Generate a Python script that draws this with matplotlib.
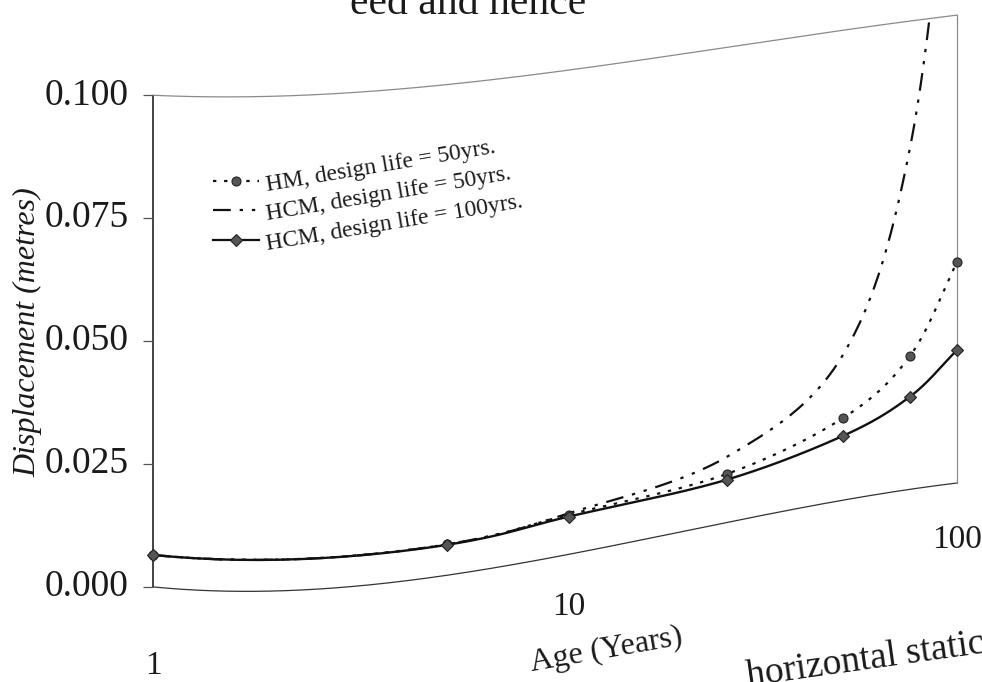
import numpy as np
import matplotlib
matplotlib.use("Agg")
import matplotlib.pyplot as plt
from matplotlib.transforms import Transform, offset_copy
from matplotlib.path import Path
from matplotlib.patches import PathPatch
from matplotlib.lines import Line2D
from matplotlib.markers import TICKLEFT

# ---- data -------------------------------------------------------------
years = [1, 5, 10, 25, 50, 75, 100]
hm_50 = [0.0065, 0.0063, 0.0082, 0.0102, 0.0175, 0.0285, 0.0472]
hcm_50 = [0.0065, 0.0063, 0.0085, 0.0138, 0.0310, 0.0730, 0.1500]
hcm_100 = [0.0065, 0.0062, 0.0078, 0.0090, 0.0137, 0.0198, 0.0284]
series_labels = ["HM, design life = 50yrs.",
                 "HCM, design life = 50yrs.",
                 "HCM, design life = 100yrs."]
y_ticks = [0.000, 0.025, 0.050, 0.075, 0.100]
y_tick_labels = ["0.000", "0.025", "0.050", "0.075", "0.100"]
x_ticks = [1, 10, 100]
x_tick_labels = ["1", "10", "100"]

plt.rcParams['font.family'] = ['Liberation Serif', 'DejaVu Serif']

W, H = 982, 682

# ---- curled-page geometry (pixels, origin top-left) ----------------------
EDGE_L, EDGE_R = 153.0, 957.0
bottom_fit = np.polyfit([153, 230, 380, 580, 700, 957],
                        [587, 591, 584, 552, 528, 483], 3)
top_fit = np.polyfit([153, 267, 483, 650, 700, 800, 957],
                     [95, 97, 80, 60, 50, 37, 15], 3)
label_fit = np.polyfit([153, 550, 957], [666, 610, 540], 2)
LABEL_V = -0.15


class PageCurl(Transform):
    """Maps axes-fraction (u, v) onto the curled page, in figure fraction."""
    input_dims = output_dims = 2
    is_separable = False
    has_inverse = False

    def transform_non_affine(self, values):
        values = np.asarray(values, dtype=float).reshape(-1, 2)
        u, v = values[:, 0], values[:, 1]
        gx = u + 0.07 * u * (1 - u)
        px = EDGE_L + (EDGE_R - EDGE_L) * gx
        bottom = np.polyval(bottom_fit, px)
        top = np.polyval(top_fit, px)
        label = np.polyval(label_fit, px)
        py = np.where(v >= 0, bottom + (top - bottom) * v,
                      bottom + (label - bottom) * (v / LABEL_V))
        return np.column_stack([px / W, 1 - py / H])

    def transform_path_non_affine(self, path):
        return Path(self.transform_non_affine(path.vertices), path.codes)


def smooth(xs, ys, n=30):
    """Catmull-Rom curve through the points in (log x, y)."""
    P = np.column_stack([np.log10(xs), np.asarray(ys, float)])
    P = np.vstack([2 * P[0] - P[1], P, 2 * P[-1] - P[-2]])
    t = np.linspace(0, 1, n, endpoint=False)[:, None]
    out = []
    for i in range(1, len(P) - 2):
        p0, p1, p2, p3 = P[i - 1], P[i], P[i + 1], P[i + 2]
        out.append(0.5 * (2 * p1 + (-p0 + p2) * t
                          + (2 * p0 - 5 * p1 + 4 * p2 - p3) * t ** 2
                          + (-p0 + 3 * p1 - 3 * p2 + p3) * t ** 3))
    out.append(P[-2][None, :])
    pts = np.vstack(out)
    return 10 ** pts[:, 0], pts[:, 1]


fig = plt.figure(figsize=(W / 100, H / 100), dpi=100)
ax = fig.add_axes([0, 0, 1, 1])
ax.set_xscale('log')
ax.set_xlim(1, 100)
ax.set_ylim(0, 0.1)
ax.set_axis_off()

curl = PageCurl() + fig.transFigure
to_page = ax.transScale + ax.transLimits + curl

# ---- plot frame ----------------------------------------------------------
s = np.linspace(0, 1, 300)
z, o = np.zeros_like(s), np.ones_like(s)
ax.plot(z, s, transform=curl, color='#111111', lw=1.1, solid_capstyle='butt')
ax.plot(s, z, transform=curl, color='#333333', lw=0.9)
ax.plot(s, o, transform=curl, color='#8a8a8a', lw=0.9)
ax.plot(o, s, transform=curl, color='#8a8a8a', lw=0.9)

frame_verts = np.concatenate([np.column_stack([s, z]), np.column_stack([o, s]),
                              np.column_stack([s[::-1], o]),
                              np.column_stack([z, s[::-1]])])
frame_patch = PathPatch(Path(frame_verts), transform=curl,
                        facecolor='none', edgecolor='none')

# y ticks and labels
ax.plot([1] * len(y_ticks), y_ticks, ls='none', marker=TICKLEFT, ms=7,
        mew=0.9, color='#555555', transform=to_page)
for yt, lab in zip(y_ticks, y_tick_labels):
    ax.text(1, yt, lab, transform=offset_copy(to_page, fig=fig, x=-24, y=0,
                                              units='dots'),
            ha='right', va='center', fontsize=27, color='#1a1a1a')

# x tick labels
for xt, lab in zip(x_ticks, x_tick_labels):
    ax.text(xt, LABEL_V * 0.1, lab, transform=to_page,
            ha='center', va='center', fontsize=24, color='#1a1a1a')

# ---- series ----------------------------------------------------------------
line_col = '#111111'
mk_face, mk_edge = '#555555', '#222222'
hcm50_style = (0, (8, 4, 1.5, 4, 1.5, 4))
hm_style = (0, (1.5, 3.5))

sx, sy = smooth(years, hcm_50)
l50, = ax.plot(sx, sy, transform=to_page, color=line_col, lw=1.6,
               ls=hcm50_style)
l50.set_clip_path(frame_patch)

sx, sy = smooth(years, hm_50)
ax.plot(sx, sy, transform=to_page, color=line_col, lw=1.6, ls=hm_style)
ax.plot(years, hm_50, transform=to_page, ls='none', marker='o', ms=6.5,
        mfc=mk_face, mec=mk_edge, mew=0.8)

sx, sy = smooth(years, hcm_100)
ax.plot(sx, sy, transform=to_page, color=line_col, lw=1.7)
ax.plot(years, hcm_100, transform=to_page, ls='none', marker='D', ms=6.5,
        mfc=mk_face, mec=mk_edge, mew=0.8, zorder=3)

# ---- legend ----------------------------------------------------------------
def fx(px):
    return px / W


def fy(py):
    return 1 - py / H


legend_rows = [181, 210, 240]
handles = [
    dict(ls=hm_style, marker='o'),
    dict(ls=hcm50_style, marker=None),
    dict(ls='-', marker='D'),
]
for row, h, lab in zip(legend_rows, handles, series_labels):
    fig.add_artist(Line2D([fx(213), fx(259)], [fy(row), fy(row)],
                          transform=fig.transFigure, color=line_col, lw=1.6,
                          ls=h['ls']))
    if h['marker']:
        fig.add_artist(Line2D([fx(236)], [fy(row)], transform=fig.transFigure,
                              ls='none', marker=h['marker'], ms=6.5,
                              mfc=mk_face, mec=mk_edge, mew=0.8))
    fig.text(fx(266), fy(row + 5), lab, fontsize=17, rotation=9.5,
             rotation_mode='anchor', ha='left', va='center', color='#1a1a1a')

# ---- axis titles -----------------------------------------------------------
fig.text(fx(28), fy(332), "Displacement (metres)", rotation=90, style='italic',
         ha='center', va='center', fontsize=23, color='#1a1a1a')
fig.text(fx(606), fy(650), "Age (Years)", rotation=10, rotation_mode='anchor',
         ha='center', va='center', fontsize=23, color='#1a1a1a')

# ---- surrounding page text ---------------------------------------------------
fig.text(fx(350), fy(14), "eed and hence", ha='left', va='baseline',
         fontsize=30, color='#1a1a1a')
fig.text(fx(748), fy(686), "horizontal static", rotation=8,
         rotation_mode='anchor', ha='left', va='baseline', fontsize=27,
         color='#1a1a1a')

fig.savefig('out.png', dpi=100)
